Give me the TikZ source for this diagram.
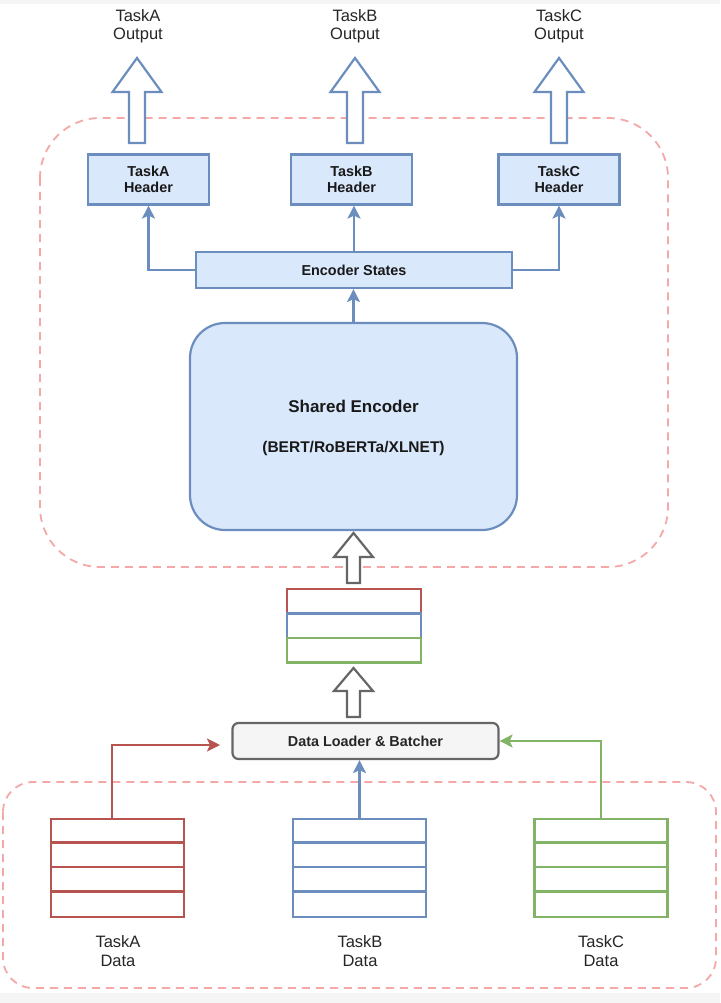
\documentclass[tikz,border=0pt]{standalone}
\usepackage{fontspec}
\setmainfont{Liberation Sans}
\usepackage{tikz}
\usetikzlibrary{arrows.meta}

\definecolor{bluedraw}{HTML}{6C8EBF}
\definecolor{bluefill}{HTML}{DAE8FC}
\definecolor{reddraw}{HTML}{B85450}
\definecolor{greendraw}{HTML}{82B366}
\definecolor{greydraw}{HTML}{666666}
\definecolor{greyfill}{HTML}{F5F5F5}
\definecolor{groupdash}{HTML}{F4A9A8}

\tikzset{
	header/.style={draw=bluedraw, fill=bluefill, line width=2.2pt, minimum width=121pt, minimum height=50pt, align=center, text=black!90, font=\fontsize{14.4}{16.5}\selectfont\bfseries},
	label/.style={align=center, text=black!85, font=\fontsize{16.5}{18.5}\selectfont},
	group/.style={draw=groupdash, line width=1.8pt, dash pattern=on 8pt off 6pt},
	link/.style={line width=2.2pt, -{Stealth[length=13pt, width=13pt, inset=3pt]}},
	datastack/.style={draw=#1, line width=2.2pt, minimum width=133pt, minimum height=98pt},
	batchrow/.style={draw=#1, line width=2.2pt, minimum width=134pt, minimum height=24.5pt}
}

% hollow arrow: x, tip y, head y, bottom y, head half width, shaft half width, colour
\newcommand{\fatarrow}[7]{%
	\draw[draw=#7, fill=white, line width=2.2pt, line join=miter]
		({#1-#6},#4) -- ({#1-#6},#3) -- ({#1-#5},#3) -- (#1,#2)
		-- ({#1+#5},#3) -- ({#1+#6},#3) -- ({#1+#6},#4) -- cycle;
}

\begin{document}
\begin{tikzpicture}[x=1pt, y=-1pt]
	\useasboundingbox (0,0) rectangle (720,1003);
	\fill[greyfill] (0,0) rectangle (720,1003);
	\fill[white] (0,4) rectangle (720,993);

	% groups
	\draw[group, rounded corners=60pt] (40,118) rectangle (668,567);
	\draw[group, rounded corners=30pt] (3,782) rectangle (716,988);

	% outputs
	\node[label] (outA) at (138,26) {TaskA\\Output};
	\node[label] (outB) at (355,26) {TaskB\\Output};
	\node[label] (outC) at (559,26) {TaskC\\Output};

	\fatarrow{137}{58}{92}{143}{24.5}{8}{bluedraw}
	\fatarrow{355}{58}{92}{143}{24.5}{8}{bluedraw}
	\fatarrow{559}{58}{92}{143}{24.5}{8}{bluedraw}

	% headers
	\node[header] (hA) at (148.5,179.5) {TaskA\\Header};
	\node[header] (hB) at (351.5,179.5) {TaskB\\Header};
	\node[header] (hC) at (559,179.5) {TaskC\\Header};

	\node[header, minimum width=316pt, minimum height=36pt] (states) at (354,270) {Encoder States};

	\node[draw=bluedraw, fill=bluefill, line width=2.2pt, rounded corners=35pt, minimum width=327pt, minimum height=207pt] (shared) at (353.5,426.5) {};
	\node[text=black!90, font=\fontsize{17}{19}\selectfont\bfseries] (sharedname) at (353.5,406) {Shared Encoder};
	\node[text=black!90, font=\fontsize{15.5}{18}\selectfont\bfseries] (sharedmodels) at (353.5,448) {(BERT/RoBERTa/XLNET)};

	\draw[link, draw=bluedraw] (states.west) -| (hA.south);
	\draw[link, draw=bluedraw] (states.east) -| (hC.south);
	\draw[link, draw=bluedraw] (states.north) -- (states.north |- hB.south);
	\draw[link, draw=bluedraw] (shared.north) -- (shared.north |- states.south);

	% batch
	\fatarrow{353.5}{533}{557}{583}{19.5}{6.5}{greydraw}
	\node[batchrow=reddraw] (bR) at (354,601.25) {};
	\node[batchrow=bluedraw] (bB) at (354,625.75) {};
	\node[batchrow=greendraw] (bG) at (354,650.25) {};
	\fatarrow{353.5}{668}{691}{717}{19.5}{6.5}{greydraw}

	\node[draw=greydraw, fill=greyfill, line width=2.2pt, rounded corners=6pt, minimum width=266pt, minimum height=36pt, font=\fontsize{14.4}{16.5}\selectfont\bfseries, text=black!85] (loader) at (365.5,741) {Data Loader \& Batcher};

	% task data
	\node[datastack=reddraw] (dA) at (117.5,868) {};
	\node[datastack=bluedraw] (dB) at (359.5,868) {};
	\node[datastack=greendraw] (dC) at (601,868) {};
	\foreach \d/\c in {dA/reddraw, dB/bluedraw, dC/greendraw}
		\foreach \i in {1,2,3}
			\draw[draw=\c, line width=2.2pt] ([yshift=-\i*24.5pt]\d.north west) -- ([yshift=-\i*24.5pt]\d.north east);

	\node[label] (lA) at (118,951) {TaskA\\Data};
	\node[label] (lB) at (360,951) {TaskB\\Data};
	\node[label] (lC) at (601,951) {TaskC\\Data};

	\coordinate (inA) at (220,745);
	\draw[link, draw=reddraw] ([xshift=-5.5pt]dA.north) |- (inA);
	\draw[link, draw=bluedraw] (dB.north) -- (dB.north |- loader.south);
	\draw[link, draw=greendraw] (dC.north) |- (loader.east);
\end{tikzpicture}
\end{document}
